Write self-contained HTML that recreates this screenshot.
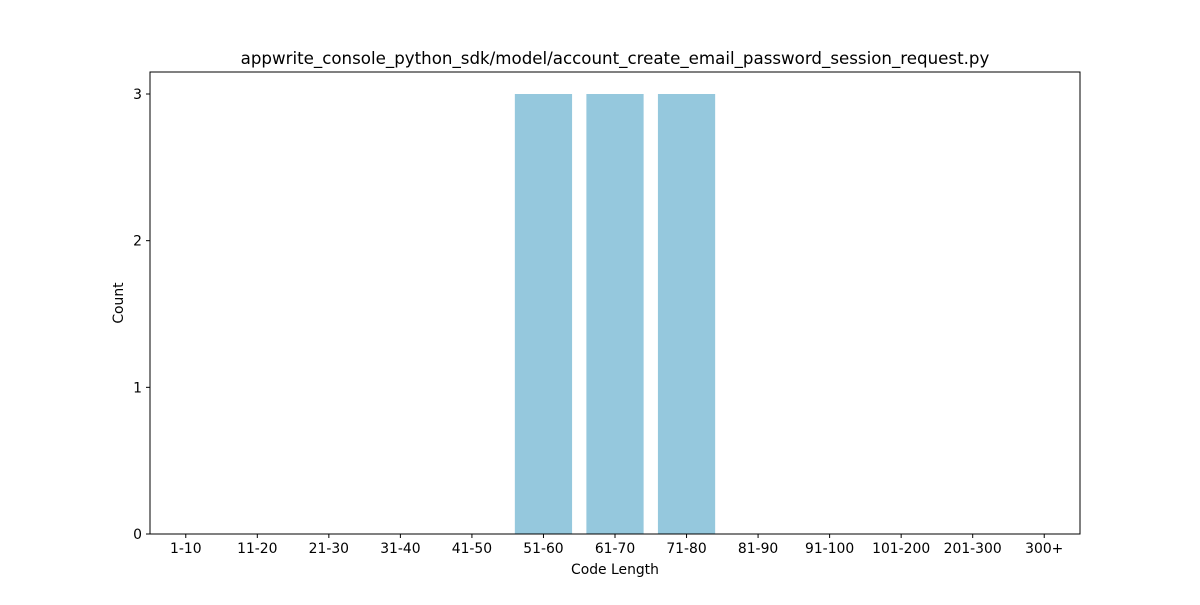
<!DOCTYPE html>
<html><head><meta charset="utf-8"><style>
body{margin:0;background:#fff;}
svg text{font-family:"DejaVu Sans","Liberation Sans",sans-serif;}
</style></head><body>
<svg id="chart" width="1200" height="600" xmlns="http://www.w3.org/2000/svg">
<rect width="1200" height="600" fill="#fff"/>
<text x="615" y="64" text-anchor="middle" font-size="16.67" fill="#000">appwrite_console_python_sdk/model/account_create_email_password_session_request.py</text>
<g id="bars"></g>
<g id="xticks"></g>
<g id="yticks"></g>
<rect x="150" y="72" width="930" height="462" fill="none" stroke="#000" stroke-width="1"/>
<text x="615" y="574" text-anchor="middle" font-size="13.9">Code Length</text>
<text x="123" y="303" text-anchor="middle" font-size="13.9" transform="rotate(-90 123 303)">Count</text>
</svg>
<script>
const categories=["1-10","11-20","21-30","31-40","41-50","51-60","61-70","71-80","81-90","91-100","101-200","201-300","300+"];
const counts=[0,0,0,0,0,3,3,3,0,0,0,0,0];
const yTicks=[0,1,2,3];
const L=150,R=1080,T=72,B=534;
const xMin=-0.5,xMax=categories.length-0.5,yMax=3.15;
const xs=i=>L+(i-xMin)/(xMax-xMin)*(R-L);
const ys=v=>B-v/yMax*(B-T);
const NS="http://www.w3.org/2000/svg";
const bars=document.getElementById('bars'),xt=document.getElementById('xticks'),yt=document.getElementById('yticks');
categories.forEach((c,i)=>{
  const w=0.8*(R-L)/(xMax-xMin);
  if(counts[i]>0){
    const r=document.createElementNS(NS,'rect');
    r.setAttribute('x',xs(i)-w/2);r.setAttribute('y',ys(counts[i]));
    r.setAttribute('width',w);r.setAttribute('height',B-ys(counts[i]));
    r.setAttribute('fill','#95c8dd');
    
    
    bars.appendChild(r);
  }
  const l=document.createElementNS(NS,'line');
  l.setAttribute('x1',xs(i));l.setAttribute('x2',xs(i));l.setAttribute('y1',B);l.setAttribute('y2',B+4);l.setAttribute('stroke','#000');
  
  
  xt.appendChild(l);
  const t=document.createElementNS(NS,'text');
  t.setAttribute('x',xs(i));t.setAttribute('y',B+19);t.setAttribute('text-anchor','middle');t.setAttribute('font-size','13.9');
  t.textContent=c;
  
  
  xt.appendChild(t);
});
yTicks.forEach(v=>{
  const l=document.createElementNS(NS,'line');
  l.setAttribute('x1',L-4);l.setAttribute('x2',L);l.setAttribute('y1',ys(v));l.setAttribute('y2',ys(v));l.setAttribute('stroke','#000');
  
  
  yt.appendChild(l);
  const t=document.createElementNS(NS,'text');
  t.setAttribute('x',L-8);t.setAttribute('y',ys(v)+5);t.setAttribute('text-anchor','end');t.setAttribute('font-size','13.9');
  t.textContent=v;
  
  
  yt.appendChild(t);
});
</script>
</body></html>
